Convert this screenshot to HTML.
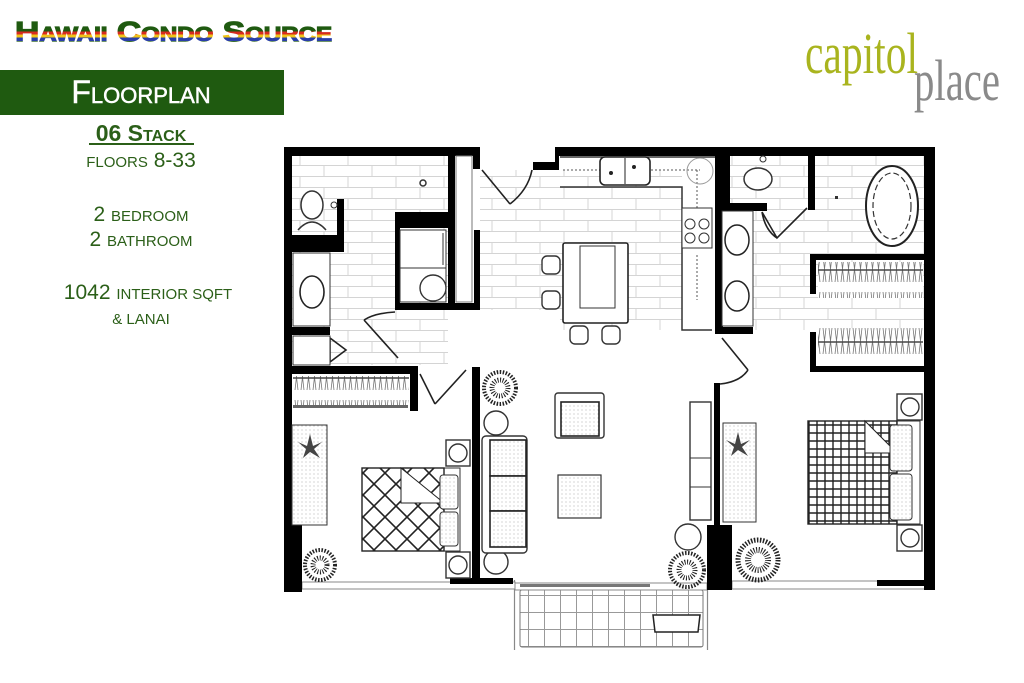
<!DOCTYPE html>
<html><head><meta charset="utf-8"><style>
html,body{margin:0;padding:0;background:#fff;}
svg{display:block}
</style></head><body>
<svg width="1024" height="683" viewBox="0 0 1024 683" xmlns="http://www.w3.org/2000/svg" font-family="Liberation Sans, sans-serif">
<defs>
<linearGradient id="rb" x1="0" y1="0" x2="0" y2="1">
<stop offset="0" stop-color="#1f5a10"/><stop offset="0.5" stop-color="#1f5a10"/>
<stop offset="0.5" stop-color="#d62b1f"/><stop offset="0.6" stop-color="#d62b1f"/>
<stop offset="0.6" stop-color="#f0c419"/><stop offset="0.7" stop-color="#f0c419"/>
<stop offset="0.7" stop-color="#2a3fa8"/><stop offset="0.8" stop-color="#2a3fa8"/>
<stop offset="0.8" stop-color="#1f5a10"/><stop offset="1" stop-color="#1f5a10"/>
</linearGradient>
<pattern id="tile" width="48" height="22" patternUnits="userSpaceOnUse">
<rect width="48" height="22" fill="#fff"/>
<path d="M0 0.5H48M0 11.5H48M12 0V11M36 11V22" stroke="#d4d4d4" stroke-width="1" fill="none"/>
</pattern>
<pattern id="dots" width="4" height="4" patternUnits="userSpaceOnUse">
<rect width="4" height="4" fill="#fff"/><circle cx="2" cy="2" r="0.6" fill="#bbb"/>
</pattern>
<pattern id="grid" width="16" height="17" patternUnits="userSpaceOnUse">
<rect width="16" height="17" fill="#fff"/><path d="M0.5 0V17M0 0.5H16" stroke="#999" stroke-width="1"/>
</pattern>
<pattern id="check" width="8" height="8" patternUnits="userSpaceOnUse">
<rect width="8" height="8" fill="#fff"/><path d="M1 0V8M0 1H8" stroke="#222" stroke-width="1.4"/>
</pattern>
<pattern id="diag" width="22" height="22" patternUnits="userSpaceOnUse">
<rect width="22" height="22" fill="#fff"/><path d="M0 0L22 22M22 0L0 22" stroke="#222" stroke-width="1.6"/>
</pattern>
<pattern id="hang" width="6" height="36" patternUnits="userSpaceOnUse">
<rect width="6" height="36" fill="#fff"/><path d="M1 4L4 30M4 4L1 30" stroke="#777" stroke-width="0.8"/><path d="M0 18H6" stroke="#444" stroke-width="1.5"/>
</pattern>
</defs>

<!-- header -->
<text x="15" y="41" font-size="28" font-weight="bold" fill="url(#rb)" stroke="url(#rb)" stroke-width="1.2" textLength="317" lengthAdjust="spacingAndGlyphs" style="font-variant:small-caps">Hawaii Condo Source</text>
<rect x="0" y="70" width="284" height="45" fill="#1f5a10"/>
<text x="141" y="103" font-size="32" fill="#fff" stroke="#fff" stroke-width="0.5" text-anchor="middle" style="font-variant:small-caps">Floorplan</text>
<text x="141" y="141" font-size="23" font-weight="bold" fill="#2b5f18" text-anchor="middle" style="font-variant:small-caps">06 Stack</text>
<rect x="89" y="143" width="105" height="2" fill="#2b5f18"/>
<text x="141" y="167" font-size="21" fill="#2b5f18" text-anchor="middle"><tspan font-size="15">FLOORS</tspan> 8-33</text>
<text x="141" y="221" font-size="21" fill="#2b5f18" text-anchor="middle">2 <tspan font-size="15">BEDROOM</tspan></text>
<text x="141" y="246" font-size="21" fill="#2b5f18" text-anchor="middle">2 <tspan font-size="15">BATHROOM</tspan></text>
<text x="148" y="299" font-size="21" fill="#2b5f18" text-anchor="middle">1042 <tspan font-size="15">INTERIOR SQFT</tspan></text>
<text x="141" y="324" font-size="15" fill="#2b5f18" text-anchor="middle">&amp; LANAI</text>

<!-- logo -->
<text x="805" y="73" font-size="58" fill="#a9b41e" font-family="Liberation Serif, serif" textLength="113" lengthAdjust="spacingAndGlyphs">capitol</text>
<text x="914" y="100" font-size="58" fill="#8a8a8a" font-family="Liberation Serif, serif" textLength="86" lengthAdjust="spacingAndGlyphs">place</text>

<!-- floor tiles -->
<rect x="292" y="155" width="156" height="210" fill="url(#tile)"/>
<rect x="480" y="170" width="202" height="160" fill="url(#tile)"/>
<rect x="720" y="155" width="205" height="175" fill="url(#tile)"/>
<rect x="480" y="310" width="80" height="20" fill="#fff"/>

<!-- lanai -->
<rect x="520" y="590" width="183" height="57" rx="2" fill="url(#grid)" stroke="#777" stroke-width="1"/>
<path d="M514.5 580V650M707.5 580V650" stroke="#888" stroke-width="1.2"/>
<path d="M653 615H700L698 632H655Z" fill="#fff" stroke="#222" stroke-width="1.5"/>

<!-- windows -->
<rect x="302" y="582" width="213" height="7" fill="#fff" stroke="#888"/>
<rect x="515" y="583" width="192" height="7" fill="#fff" stroke="#888"/>
<rect x="520" y="584" width="130" height="3" fill="#777"/>
<rect x="732" y="581" width="198" height="8" fill="#fff" stroke="#888"/>

<!-- walls -->
<g fill="#000">
<rect x="284" y="147" width="196" height="9"/>
<rect x="284" y="147" width="8" height="445"/>
<rect x="284" y="525" width="18" height="67"/>
<rect x="555" y="147" width="380" height="9"/>
<rect x="533" y="162" width="24" height="8"/>
<rect x="555" y="147" width="4" height="23"/>
<rect x="473" y="147" width="7" height="22"/>
<rect x="474" y="230" width="6" height="80"/>
<rect x="448" y="147" width="7" height="163"/>
<rect x="395" y="212" width="55" height="16"/>
<rect x="395" y="212" width="5" height="98"/>
<rect x="395" y="303" width="85" height="7"/>
<rect x="337" y="199" width="7" height="52"/>
<rect x="292" y="235" width="52" height="17"/>
<rect x="292" y="327" width="38" height="8"/>
<rect x="284" y="366" width="134" height="8"/>
<rect x="410" y="366" width="8" height="45"/>
<rect x="472" y="367" width="8" height="216"/>
<rect x="450" y="578" width="63" height="6"/>
<rect x="715" y="147" width="8" height="187"/>
<rect x="715" y="327" width="38" height="7"/>
<rect x="714" y="383" width="6" height="145"/>
<rect x="707" y="525" width="25" height="65"/>
<rect x="717" y="147" width="13" height="63"/>
<rect x="717" y="203" width="50" height="8"/>
<rect x="808" y="147" width="7" height="63"/>
<rect x="924" y="147" width="11" height="443"/>
<rect x="877" y="580" width="58" height="6"/>
<rect x="810" y="254" width="115" height="6"/>
<rect x="810" y="254" width="6" height="40"/>
<rect x="810" y="332" width="6" height="40"/>
<rect x="810" y="366" width="115" height="6"/>
</g>

<!-- closets -->
<rect x="293" y="376" width="116" height="32" fill="url(#hang)"/>
<rect x="293" y="405" width="115" height="3" fill="#666"/>
<rect x="818" y="262" width="105" height="36" fill="url(#hang)"/>
<rect x="818" y="328" width="105" height="36" fill="url(#hang)"/>

<!-- doors -->
<g fill="none" stroke="#222" stroke-width="1.6">
<path d="M482 170L510 204M510 204Q528 190 532 170"/>
<path d="M364 320L398 358M364 320Q375 313 395 312"/>
<path d="M420 374L435 404M435 404L466 370"/>
<path d="M330 338V362L346 350Z"/>
<path d="M722 338L748 370M748 370Q740 382 720 384"/>
<path d="M762 212L777 238L807 208M762 212Q765 230 777 238"/>
</g>

<!-- bath left -->
<ellipse cx="312" cy="205" rx="11" ry="14" fill="#fff" stroke="#333" stroke-width="1.5"/>
<path d="M298 230Q312 214 326 230" fill="#fff" stroke="#333" stroke-width="1.5"/>
<circle cx="334" cy="205" r="3" fill="none" stroke="#333"/>
<circle cx="423" cy="183" r="3" fill="none" stroke="#333" stroke-width="1.5"/>
<rect x="293" y="253" width="37" height="73" fill="#fff" stroke="#333"/>
<ellipse cx="312" cy="292" rx="12" ry="16" fill="#fff" stroke="#222" stroke-width="1.6"/>
<rect x="293" y="336" width="37" height="29" fill="#fff" stroke="#333"/>
<rect x="400" y="230" width="46" height="72" fill="#fff" stroke="#333"/>
<path d="M400 268H446M443 233V265" stroke="#333"/>
<circle cx="433" cy="288" r="13" fill="#fff" stroke="#333" stroke-width="1.4"/>
<rect x="456" y="156" width="16" height="146" fill="#fff" stroke="#777"/>

<!-- kitchen -->
<path d="M560 157H715M560 187H682V330H712" fill="none" stroke="#333" stroke-width="1.5"/>
<path d="M563 170H700M697 170V210M697 255V300" stroke="#555" stroke-dasharray="2 2"/>
<rect x="600" y="157" width="50" height="28" rx="5" fill="#fff" stroke="#222" stroke-width="1.6"/>
<path d="M625 158V184" stroke="#222"/>
<circle cx="611" cy="173" r="2" fill="#222"/><circle cx="634" cy="167" r="2" fill="#222"/>
<circle cx="700" cy="171" r="13" fill="none" stroke="#999"/>
<rect x="682" y="208" width="30" height="40" fill="#fff" stroke="#333"/>
<circle cx="690" cy="224" r="5" fill="none" stroke="#333"/><circle cx="704" cy="224" r="5" fill="none" stroke="#333"/>
<circle cx="690" cy="238" r="5" fill="none" stroke="#333"/><circle cx="704" cy="238" r="5" fill="none" stroke="#333"/>
<rect x="563" y="243" width="65" height="80" rx="2" fill="#fff" stroke="#222" stroke-width="1.6"/>
<rect x="580" y="246" width="35" height="62" fill="none" stroke="#333"/>
<g fill="#fff" stroke="#333" stroke-width="1.4">
<rect x="542" y="256" width="18" height="18" rx="5"/><rect x="542" y="291" width="18" height="18" rx="5"/>
<rect x="570" y="326" width="18" height="18" rx="5"/><rect x="602" y="326" width="18" height="18" rx="5"/>
</g>

<!-- bath right -->
<ellipse cx="758" cy="179" rx="14" ry="11" fill="#fff" stroke="#333" stroke-width="1.5"/>
<circle cx="763" cy="159" r="3" fill="none" stroke="#333"/>
<rect x="835" y="196" width="3" height="3" fill="#333"/>
<ellipse cx="892" cy="206" rx="26" ry="40" fill="#fff" stroke="#222" stroke-width="2"/>
<ellipse cx="892" cy="206" rx="19" ry="33" fill="none" stroke="#333" stroke-width="1.2" stroke-dasharray="6 3"/>
<rect x="722" y="211" width="31" height="115" fill="#fff" stroke="#333"/>
<ellipse cx="737" cy="240" rx="12" ry="15" fill="#fff" stroke="#222" stroke-width="1.5"/>
<ellipse cx="737" cy="296" rx="12" ry="15" fill="#fff" stroke="#222" stroke-width="1.5"/>

<!-- living -->
<circle cx="500" cy="388" r="16" fill="none" stroke="#222" stroke-width="4" stroke-dasharray="1.5 1.5"/>
<circle cx="500" cy="388" r="8" fill="none" stroke="#222" stroke-width="5" stroke-dasharray="1 1.5"/>
<g fill="#fff" stroke="#333" stroke-width="1.4">
<circle cx="496" cy="423" r="12"/><circle cx="496" cy="562" r="12"/>
<rect x="482" y="436" width="45" height="117" rx="4"/>
<rect x="555" y="393" width="49" height="45" rx="3"/>
<rect x="690" y="402" width="21" height="118"/>
</g>
<rect x="490" y="440" width="36" height="36" fill="url(#dots)" stroke="#222" stroke-width="1.6"/>
<rect x="490" y="476" width="36" height="35" fill="url(#dots)" stroke="#222" stroke-width="1.6"/>
<rect x="490" y="511" width="36" height="36" fill="url(#dots)" stroke="#222" stroke-width="1.6"/>
<rect x="561" y="402" width="38" height="34" fill="url(#dots)" stroke="#222" stroke-width="1.6"/>
<rect x="558" y="475" width="43" height="43" fill="url(#dots)" stroke="#333" stroke-width="1.2"/>
<path d="M690 458H711M690 487H711" stroke="#333"/>

<!-- bedroom left -->
<rect x="292" y="425" width="35" height="100" fill="url(#dots)" stroke="#333"/>
<path d="M310 434L313 446L322 442L314 449L320 458L310 452L303 458L306 449L298 442L307 446Z" fill="#444"/>
<rect x="362" y="468" width="98" height="83" fill="#fff" stroke="#333"/>
<rect x="362" y="468" width="82" height="83" fill="url(#diag)" stroke="#222" stroke-width="1.4"/>
<path d="M401 468L444 503H401Z" fill="#fff" stroke="#222"/>
<rect x="440" y="475" width="18" height="34" rx="3" fill="url(#dots)" stroke="#333"/>
<rect x="440" y="512" width="18" height="34" rx="3" fill="url(#dots)" stroke="#333"/>
<g fill="#fff" stroke="#333" stroke-width="1.4">
<rect x="446" y="440" width="24" height="26"/><circle cx="458" cy="453" r="9"/>
<rect x="446" y="552" width="24" height="26"/><circle cx="458" cy="565" r="9"/>
</g>
<circle cx="320" cy="565" r="15" fill="none" stroke="#222" stroke-width="4" stroke-dasharray="1.5 1.5"/>
<circle cx="320" cy="565" r="7" fill="none" stroke="#222" stroke-width="5" stroke-dasharray="1 1.5"/>

<!-- bedroom right -->
<rect x="723" y="423" width="33" height="99" fill="url(#dots)" stroke="#333"/>
<path d="M738 432L741 444L750 440L742 447L748 456L738 450L731 456L734 447L726 440L735 444Z" fill="#444"/>
<rect x="808" y="421" width="112" height="103" fill="#fff" stroke="#333"/>
<rect x="808" y="421" width="89" height="103" fill="url(#check)" stroke="#222" stroke-width="1.4"/>
<path d="M865 421L897 453H865Z" fill="#fff" stroke="#222"/>
<rect x="890" y="425" width="22" height="46" rx="3" fill="url(#dots)" stroke="#333"/>
<rect x="890" y="474" width="22" height="46" rx="3" fill="url(#dots)" stroke="#333"/>
<g fill="#fff" stroke="#333" stroke-width="1.4">
<rect x="897" y="394" width="25" height="26"/><circle cx="910" cy="407" r="9"/>
<rect x="897" y="525" width="25" height="26"/><circle cx="910" cy="538" r="9"/>
<circle cx="688" cy="537" r="13"/>
</g>
<circle cx="758" cy="560" r="20" fill="none" stroke="#222" stroke-width="5" stroke-dasharray="1.5 1.5"/>
<circle cx="758" cy="560" r="10" fill="none" stroke="#222" stroke-width="6" stroke-dasharray="1 1.5"/>
<circle cx="687" cy="570" r="17" fill="none" stroke="#222" stroke-width="4" stroke-dasharray="1.5 1.5"/>
<circle cx="687" cy="570" r="8" fill="none" stroke="#222" stroke-width="5" stroke-dasharray="1 1.5"/>
</svg>
</body></html>
